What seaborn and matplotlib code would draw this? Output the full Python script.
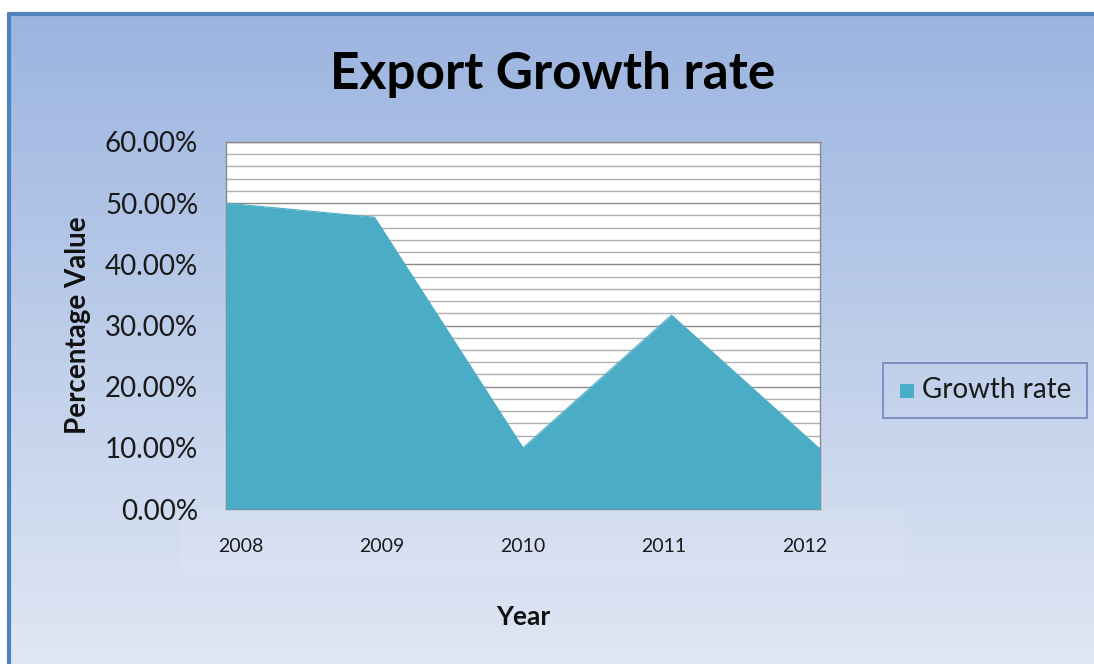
import numpy as np
import matplotlib
matplotlib.use("Agg")
import matplotlib.pyplot as plt
import seaborn as sns
from matplotlib.patches import Rectangle
from matplotlib.ticker import MultipleLocator, FuncFormatter

# data
years = ["2008", "2009", "2010", "2011", "2012"]
growth_rate = [50.0, 47.7, 10.0, 31.7, 9.8]

sns.set_theme(style="white")
plt.rcParams['font.family'] = ['Lato', 'DejaVu Sans']

FILL = "#4bacc6"
fig = plt.figure(figsize=(10.94, 6.64), dpi=100)

# background gradient (chart area)
bg = fig.add_axes([0, 0, 1, 1], zorder=-10)
grad = np.linspace(0, 1, 256).reshape(-1, 1)
top = np.array([0.608, 0.706, 0.878])
bot = np.array([0.878, 0.906, 0.957])
img = top + (bot - top) * grad[:, :, None] * np.ones((1, 1, 3))
bg.imshow(img.reshape(256, 1, 3), aspect="auto", extent=[7, 1094, 664, 12])
bg.set_xlim(0, 1094)
bg.set_ylim(664, 0)
bg.plot([8.5, 8.5, 1094], [664, 13.5, 13.5], color="#4f81bd", lw=3, solid_capstyle="butt")
bg.add_patch(Rectangle((180, 510), 725, 65, facecolor="white", alpha=0.07, edgecolor="none"))
bg.axis("off")

ax = fig.add_axes([226 / 1094, 1 - 509 / 664, 594 / 1094, 367 / 664])
x = np.arange(len(years))
ax.set_facecolor("white")
ax.fill_between(x, 0, growth_rate, color=FILL, lw=0, zorder=3)
sns.lineplot(x=x, y=growth_rate, ax=ax, color=FILL, lw=0.8, zorder=3)

ax.set_xlim(0, len(years) - 1)
ax.set_ylim(0, 60)
ax.yaxis.set_major_locator(MultipleLocator(10))
ax.yaxis.set_minor_locator(MultipleLocator(2))
ax.yaxis.set_major_formatter(FuncFormatter(lambda v, p: f"{v:.2f}%"))
ax.grid(which="major", axis="y", color="#8a8a8a", lw=1.0, zorder=1)
ax.grid(which="minor", axis="y", color="#b0b0b0", lw=1.0, zorder=1)
ax.grid(axis="x", visible=False)
ax.set_xticks(np.linspace(0.1, 3.9, len(years)))
ax.set_xticklabels(years)
ax.tick_params(axis="x", length=0, pad=21, labelsize=14, labelcolor="#1a1a1a")
ax.tick_params(axis="y", which="both", length=0, pad=20, labelsize=20, labelcolor="#1a1a1a")
for s in ax.spines.values():
    s.set_color("#8a8a8a")
    s.set_linewidth(1.0)

ax.set_ylabel("Percentage Value", fontsize=20, fontweight="bold", labelpad=10, color="#111111")

fig.text(523 / 1094, 1 - 617 / 664, "Year", ha="center", va="center",
         fontsize=19, fontweight="bold", color="#111111")
fig.text(553 / 1094, 1 - 75 / 664, "Export Growth rate", ha="center", va="center",
         fontsize=37, fontweight="bold", color="#000000")

# legend
leg_ax = fig.add_axes([0, 0, 1, 1], zorder=5)
leg_ax.set_xlim(0, 1094)
leg_ax.set_ylim(664, 0)
leg_ax.axis("off")
leg_ax.add_patch(Rectangle((883, 363), 204, 55, facecolor="none", edgecolor="#6f86b8", lw=1.2))
leg_ax.add_patch(Rectangle((900, 384), 14, 14, facecolor=FILL, edgecolor="none"))
leg_ax.text(922, 390, "Growth rate", ha="left", va="center", fontsize=20, color="#1a1a1a")

fig.savefig("out.png", dpi=100)
